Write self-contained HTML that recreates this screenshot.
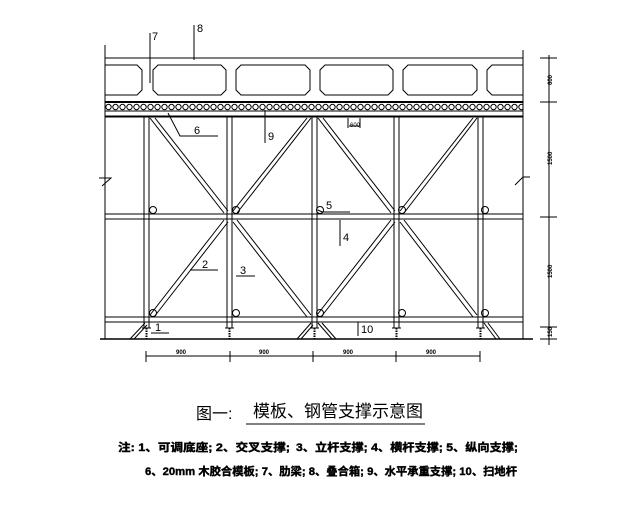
<!DOCTYPE html>
<html><head><meta charset="utf-8"><style>
html,body{margin:0;padding:0;background:#fff;width:636px;height:512px;overflow:hidden}
svg{display:block}
text{font-family:"Liberation Sans","Noto Sans CJK SC",sans-serif}
</style></head><body>
<svg width="636" height="512" viewBox="0 0 636 512" xmlns="http://www.w3.org/2000/svg">
<defs>
<pattern id="rods" x="105" y="103" width="7" height="8" patternUnits="userSpaceOnUse">
<circle cx="3.5" cy="4" r="2.7" fill="none" stroke="#000" stroke-width="1"/>
</pattern>
</defs>
<g stroke="#000" fill="none" stroke-width="1">
<line x1="105" y1="58" x2="523" y2="58"/>
<line x1="105" y1="102" x2="523" y2="102" stroke-width="2"/>
<path d="M105,65 H137 L142,70 V90 L137,95 H105"/>
<path d="M158,65 H221 L226,70 V90 L221,95 H158 L153,90 V70 Z"/>
<path d="M241,65 H305 L310,70 V90 L305,95 H241 L236,90 V70 Z"/>
<path d="M325,65 H388 L393,70 V90 L388,95 H325 L320,90 V70 Z"/>
<path d="M408,65 H472 L477,70 V90 L472,95 H408 L403,90 V70 Z"/>
<path d="M523,65 H492 L487,70 V90 L492,95 H523"/>
<rect x="105" y="103" width="418" height="8" fill="url(#rods)" stroke="none"/>
<line x1="105" y1="111" x2="523" y2="111"/>
<line x1="105" y1="116.5" x2="523" y2="116.5" stroke-width="2"/>
<line x1="105" y1="45" x2="105" y2="339"/>
<line x1="523" y1="50" x2="523" y2="339"/>
<path d="M99,178 H111 L102,186"/>
<path d="M515,185 L523,177 H530"/>
<line x1="105" y1="214" x2="523" y2="214"/>
<line x1="105" y1="219" x2="523" y2="219"/>
<line x1="105" y1="317" x2="523" y2="317"/>
<line x1="105" y1="322" x2="523" y2="322"/>
<g>
<line x1="144" y1="117" x2="144" y2="328"/><line x1="149" y1="117" x2="149" y2="328"/>
<line x1="227" y1="117" x2="227" y2="328"/><line x1="232" y1="117" x2="232" y2="328"/>
<line x1="312" y1="117" x2="312" y2="328"/><line x1="317" y1="117" x2="317" y2="328"/>
<line x1="394" y1="117" x2="394" y2="328"/><line x1="399" y1="117" x2="399" y2="328"/>
<line x1="478" y1="117" x2="478" y2="328"/><line x1="483" y1="117" x2="483" y2="328"/>
</g>
<line x1="150" y1="118" x2="224" y2="213"/><line x1="155" y1="118" x2="228" y2="211"/>
<line x1="237" y1="213" x2="311" y2="118"/><line x1="233" y1="211" x2="307" y2="118"/>
<line x1="318" y1="118" x2="391" y2="213"/><line x1="323" y1="118" x2="395" y2="211"/>
<line x1="404" y1="213" x2="477" y2="118"/><line x1="400" y1="211" x2="473" y2="118"/>
<line x1="150" y1="315" x2="224" y2="220"/><line x1="154" y1="317" x2="228" y2="222"/>
<line x1="233" y1="222" x2="307" y2="317"/><line x1="237" y1="220" x2="311" y2="315"/>
<line x1="317" y1="315" x2="391" y2="220"/><line x1="321" y1="317" x2="395" y2="222"/>
<line x1="400" y1="222" x2="473" y2="317"/><line x1="404" y1="220" x2="477" y2="315"/>
<circle cx="153" cy="210" r="3.5"/><circle cx="236" cy="210" r="3.5"/><circle cx="320" cy="210" r="3.5"/><circle cx="402" cy="210" r="3.5"/><circle cx="485" cy="210" r="3.5"/>
<circle cx="153" cy="313" r="3.5"/><circle cx="236" cy="313" r="3.5"/><circle cx="320" cy="313" r="3.5"/><circle cx="402" cy="313" r="3.5"/><circle cx="485" cy="313" r="3.5"/>
<g stroke-width="2">
<line x1="146.5" y1="328" x2="146.5" y2="339" stroke-dasharray="1.5,1"/>
<line x1="229.5" y1="328" x2="229.5" y2="339" stroke-dasharray="1.5,1"/>
<line x1="314.5" y1="328" x2="314.5" y2="339" stroke-dasharray="1.5,1"/>
<line x1="396.5" y1="328" x2="396.5" y2="339" stroke-dasharray="1.5,1"/>
<line x1="480.5" y1="328" x2="480.5" y2="339" stroke-dasharray="1.5,1"/>
</g>
<line x1="142" y1="328" x2="151" y2="328"/><line x1="225" y1="328" x2="234" y2="328"/><line x1="310" y1="328" x2="319" y2="328"/><line x1="392" y1="328" x2="401" y2="328"/><line x1="476" y1="328" x2="485" y2="328"/>
<line x1="130" y1="339" x2="145" y2="323"/><line x1="134" y1="339" x2="147" y2="325"/>
<line x1="297" y1="339" x2="311" y2="323"/><line x1="301" y1="339" x2="313" y2="325"/>
<line x1="318" y1="323" x2="332" y2="339"/><line x1="322" y1="323" x2="336" y2="339"/>
<line x1="484" y1="323" x2="496" y2="339"/><line x1="488" y1="323" x2="500" y2="339"/>
<line x1="100" y1="339" x2="533" y2="339" stroke-width="1.5"/>
<line x1="150" y1="33" x2="150" y2="83"/>
<line x1="194" y1="25" x2="194" y2="60"/>
<path d="M168,113 L180,136 H218"/>
<line x1="265" y1="110" x2="265" y2="143"/>
<path d="M318,210 L322,212 H350"/>
<line x1="340" y1="220" x2="340" y2="246"/>
<line x1="190" y1="270" x2="218" y2="270"/>
<line x1="236" y1="276" x2="255" y2="276"/>
<line x1="151" y1="333" x2="169" y2="333"/>
<line x1="358" y1="322" x2="358" y2="336"/>
<path d="M348,118 V128 M360,118 V128 M349,126 H359" />
<line x1="146" y1="356" x2="480" y2="356"/>
<line x1="146" y1="351" x2="146" y2="362"/><line x1="230" y1="351" x2="230" y2="362"/><line x1="313" y1="351" x2="313" y2="362"/><line x1="396" y1="351" x2="396" y2="362"/><line x1="480" y1="351" x2="480" y2="362"/>
<line x1="549" y1="55" x2="549" y2="345"/>
<line x1="540" y1="58" x2="557" y2="58"/><line x1="540" y1="102" x2="557" y2="102"/><line x1="540" y1="217" x2="557" y2="217"/><line x1="540" y1="327" x2="557" y2="327"/><line x1="540" y1="339" x2="557" y2="339"/>
<line x1="246" y1="424" x2="425" y2="424"/>
</g>
<g font-size="11" fill="#000">
<text x="152" y="40">7</text>
<text x="197" y="32">8</text>
<text x="194" y="134">6</text>
<text x="268" y="140">9</text>
<text x="326" y="209">5</text>
<text x="343" y="241">4</text>
<text x="202" y="268">2</text>
<text x="240" y="274">3</text>
<text x="155" y="331">1</text>
<text x="361" y="333">10</text>
<text x="350" y="127" font-size="6">600</text>
</g>
<g font-size="6" fill="#000" font-weight="bold">
<text x="176" y="354">900</text><text x="259" y="354">900</text><text x="343" y="354">900</text><text x="426" y="354">900</text>
<text transform="translate(552,85) rotate(-90)">600</text>
<text transform="translate(552,165) rotate(-90)">1500</text>
<text transform="translate(552,278) rotate(-90)">1500</text>
<text transform="translate(552,337) rotate(-90)">150</text>
</g>
<text x="196" y="419" font-size="16">图一:</text>
<text x="253" y="417" font-size="17">模板、钢管支撑示意图</text>
<g font-size="11" font-weight="bold" fill="#000" stroke="#000" stroke-width="0.4">
<text x="118" y="451" textLength="172" lengthAdjust="spacingAndGlyphs">注:  1、可调底座;  2、交叉支撑;</text>
<text x="296" y="451" textLength="222" lengthAdjust="spacingAndGlyphs">3、立杆支撑;  4、横杆支撑; 5、纵向支撑;</text>
<text x="145" y="475" textLength="372" lengthAdjust="spacingAndGlyphs">6、20mm 木胶合模板;  7、肋梁;  8、叠合箱;  9、水平承重支撑; 10、扫地杆</text>
</g>
</svg>
</body></html>
